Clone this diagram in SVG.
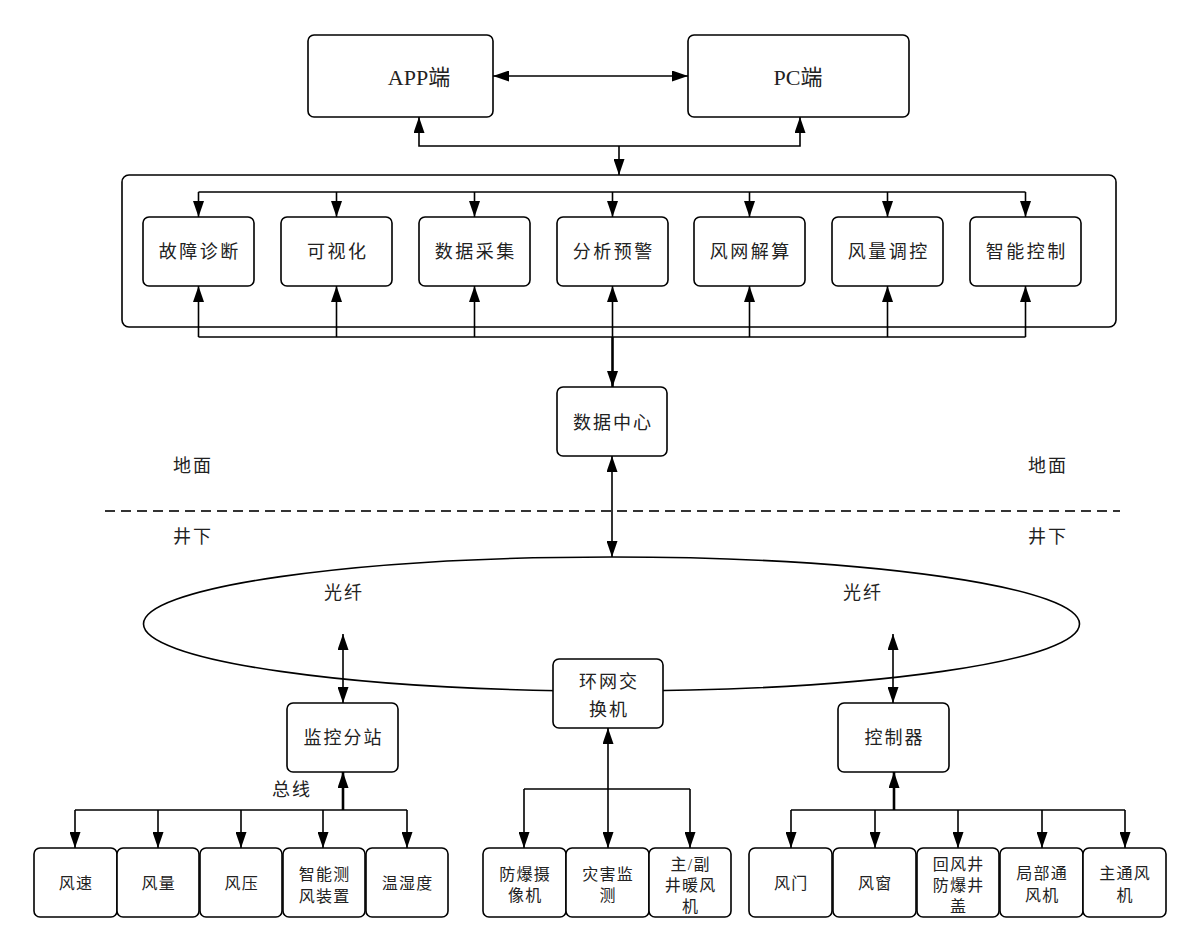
<svg xmlns="http://www.w3.org/2000/svg" width="1200" height="952" viewBox="0 0 1200 952">
<defs>
<marker id="ah" viewBox="0 0 16 11" refX="16" refY="5.5" markerWidth="16" markerHeight="11" markerUnits="userSpaceOnUse" orient="auto-start-reverse"><path d="M0,0 L16,5.5 L0,11 z" fill="#000"/></marker>
<style>
.box{fill:#fff;stroke:#000;stroke-width:1.6}
.frame{fill:none;stroke:#000;stroke-width:1.6}
.ln{fill:none;stroke:#000;stroke-width:1.6}
.thick{fill:none;stroke:#000;stroke-width:2.6}
.dash{fill:none;stroke:#333;stroke-width:1.8;stroke-dasharray:10 6}
.a1{marker-end:url(#ah)}
.a2{marker-start:url(#ah);marker-end:url(#ah)}
.t{font-family:"Liberation Serif","Noto Sans CJK SC",serif;fill:#222;text-anchor:middle;dominant-baseline:central}
.big{font-size:22px}
.row{font-size:18px;letter-spacing:2.5px}
.mid{font-size:18px;letter-spacing:2px}
.sm{font-size:16px;letter-spacing:1.3px}
</style>
</defs>
<rect width="1200" height="952" fill="#fff"/>

<g id="connectors">
  <line class="ln a2" x1="493" y1="76" x2="688" y2="76"/>
  <path class="ln a2" d="M419,117 L419,146 L800,146 L800,117"/>
  <line class="ln a1" x1="619" y1="146" x2="619" y2="175"/>
  <path class="ln" d="M198.5,192 L1025.5,192"/>
  <line class="ln a1" x1="198.5" y1="192" x2="198.5" y2="217"/>
  <line class="ln a1" x1="336.5" y1="192" x2="336.5" y2="217"/>
  <line class="ln a1" x1="474.5" y1="192" x2="474.5" y2="217"/>
  <line class="ln a1" x1="612.5" y1="192" x2="612.5" y2="217"/>
  <line class="ln a1" x1="749.5" y1="192" x2="749.5" y2="217"/>
  <line class="ln a1" x1="887.5" y1="192" x2="887.5" y2="217"/>
  <line class="ln a1" x1="1025.5" y1="192" x2="1025.5" y2="217"/>
  <path class="ln" d="M198.5,337 L1025.5,337"/>
  <line class="ln a1" x1="198.5" y1="337" x2="198.5" y2="286"/>
  <line class="ln a1" x1="336.5" y1="337" x2="336.5" y2="286"/>
  <line class="ln a1" x1="474.5" y1="337" x2="474.5" y2="286"/>
  <line class="ln a1" x1="612.5" y1="337" x2="612.5" y2="286"/>
  <line class="ln a1" x1="749.5" y1="337" x2="749.5" y2="286"/>
  <line class="ln a1" x1="887.5" y1="337" x2="887.5" y2="286"/>
  <line class="ln a1" x1="1025.5" y1="337" x2="1025.5" y2="286"/>
  <line class="thick a1" x1="612.5" y1="337" x2="612.5" y2="387"/>
  <line class="ln a2" x1="612" y1="456" x2="612" y2="557"/>
  <line class="dash" x1="105" y1="511" x2="1120" y2="511"/>
  <line class="ln a2" x1="343" y1="634" x2="343" y2="703"/>
  <line class="ln a2" x1="893" y1="634" x2="893" y2="703"/>
  <line class="thick a1" x1="343" y1="810" x2="343" y2="772"/>
  <path class="ln" d="M75,810 L407,810"/>
  <line class="ln a1" x1="75" y1="810" x2="75" y2="848"/>
  <line class="ln a1" x1="158" y1="810" x2="158" y2="848"/>
  <line class="ln a1" x1="241" y1="810" x2="241" y2="848"/>
  <line class="ln a1" x1="323" y1="810" x2="323" y2="848"/>
  <line class="ln a1" x1="407" y1="810" x2="407" y2="848"/>
  <line class="ln a2" x1="608" y1="728" x2="608" y2="848"/>
  <path class="ln" d="M524,789 L690,789"/>
  <line class="ln a1" x1="524" y1="789" x2="524" y2="848"/>
  <line class="ln a1" x1="690" y1="789" x2="690" y2="848"/>
  <line class="thick a1" x1="894" y1="810" x2="894" y2="772"/>
  <path class="ln" d="M791,810 L1125,810"/>
  <line class="ln a1" x1="791" y1="810" x2="791" y2="848"/>
  <line class="ln a1" x1="875" y1="810" x2="875" y2="848"/>
  <line class="ln a1" x1="958" y1="810" x2="958" y2="848"/>
  <line class="ln a1" x1="1042" y1="810" x2="1042" y2="848"/>
  <line class="ln a1" x1="1125" y1="810" x2="1125" y2="848"/>
</g>

<g id="platform-frame"><rect class="frame" x="122" y="175" width="994" height="152" rx="7"/></g>

<g id="app"><rect class="box" x="308" y="35" width="185" height="82" rx="6"/><text class="t big" x="419" y="77">APP端</text></g>
<g id="pc"><rect class="box" x="688" y="35" width="221" height="82" rx="6"/><text class="t big" x="798" y="77">PC端</text></g>

<g id="gzzd"><rect class="box" x="143" y="217" width="111" height="69" rx="6"/><text class="t row" x="199.7" y="252">故障诊断</text></g>
<g id="ksh"><rect class="box" x="281" y="217" width="111" height="69" rx="6"/><text class="t row" x="337.7" y="252">可视化</text></g>
<g id="sjcj"><rect class="box" x="419" y="217" width="111" height="69" rx="6"/><text class="t row" x="475.7" y="252">数据采集</text></g>
<g id="fxyj"><rect class="box" x="557" y="217" width="111" height="69" rx="6"/><text class="t row" x="613.7" y="252">分析预警</text></g>
<g id="fwjs"><rect class="box" x="694" y="217" width="111" height="69" rx="6"/><text class="t row" x="750.7" y="252">风网解算</text></g>
<g id="fltk"><rect class="box" x="832" y="217" width="111" height="69" rx="6"/><text class="t row" x="888.7" y="252">风量调控</text></g>
<g id="znkz"><rect class="box" x="970" y="217" width="111" height="69" rx="6"/><text class="t row" x="1026.7" y="252">智能控制</text></g>

<g id="sjzx"><rect class="box" x="557" y="387" width="110" height="69" rx="6"/><text class="t mid" x="613" y="423">数据中心</text></g>

<g id="labels">
  <text class="t mid" x="193" y="466">地面</text>
  <text class="t mid" x="1048" y="466">地面</text>
  <text class="t mid" x="193" y="537">井下</text>
  <text class="t mid" x="1048" y="537">井下</text>
  <text class="t mid" x="344" y="593">光纤</text>
  <text class="t mid" x="863" y="593">光纤</text>
  <text class="t mid" x="292" y="790">总线</text>
</g>

<g id="ring"><ellipse class="frame" cx="611.5" cy="624" rx="468" ry="67"/></g>

<g id="hwjhj"><rect class="box" x="553" y="659" width="110" height="69" rx="6"/><text class="t mid" x="609" y="682">环网交</text><text class="t mid" x="609" y="710">换机</text></g>
<g id="jkfz"><rect class="box" x="287" y="703" width="111" height="69" rx="6"/><text class="t mid" x="343.5" y="738">监控分站</text></g>
<g id="kzq"><rect class="box" x="838" y="703" width="111" height="69" rx="6"/><text class="t mid" x="894.5" y="738">控制器</text></g>

<g id="fs"><rect class="box" x="34" y="848" width="83" height="69" rx="6"/><text class="t sm" x="76" y="883">风速</text></g>
<g id="fl"><rect class="box" x="117" y="848" width="82" height="69" rx="6"/><text class="t sm" x="158.7" y="883">风量</text></g>
<g id="fy"><rect class="box" x="200" y="848" width="82" height="69" rx="6"/><text class="t sm" x="241.7" y="883">风压</text></g>
<g id="zncf"><rect class="box" x="283" y="848" width="82" height="69" rx="6"/><text class="t sm" x="324.7" y="874">智能测</text><text class="t sm" x="324.7" y="896">风装置</text></g>
<g id="wsd"><rect class="box" x="366" y="848" width="82" height="69" rx="6"/><text class="t sm" x="407.7" y="883">温湿度</text></g>

<g id="fbsxj"><rect class="box" x="483" y="848" width="83" height="69" rx="6"/><text class="t sm" x="525.2" y="874">防爆摄</text><text class="t sm" x="525.2" y="895">像机</text></g>
<g id="zhjc"><rect class="box" x="566" y="848" width="83" height="69" rx="6"/><text class="t sm" x="608.2" y="874">灾害监</text><text class="t sm" x="608.2" y="895">测</text></g>
<g id="nfj"><rect class="box" x="649" y="848" width="82" height="69" rx="6"/><text class="t sm" x="690.7" y="864">主/副</text><text class="t sm" x="690.7" y="885">井暖风</text><text class="t sm" x="690.7" y="906">机</text></g>

<g id="fm"><rect class="box" x="749" y="848" width="83" height="69" rx="6"/><text class="t sm" x="791.2" y="883">风门</text></g>
<g id="fc"><rect class="box" x="833" y="848" width="83" height="69" rx="6"/><text class="t sm" x="875.2" y="883">风窗</text></g>
<g id="hfj"><rect class="box" x="917" y="848" width="82" height="69" rx="6"/><text class="t sm" x="958.7" y="864">回风井</text><text class="t sm" x="958.7" y="885">防爆井</text><text class="t sm" x="958.7" y="906">盖</text></g>
<g id="jbtfj"><rect class="box" x="1000" y="848" width="83" height="69" rx="6"/><text class="t sm" x="1042.2" y="873">局部通</text><text class="t sm" x="1042.2" y="895">风机</text></g>
<g id="ztfj"><rect class="box" x="1083" y="848" width="83" height="69" rx="6"/><text class="t sm" x="1125.2" y="873">主通风</text><text class="t sm" x="1125.2" y="895">机</text></g>
</svg>
